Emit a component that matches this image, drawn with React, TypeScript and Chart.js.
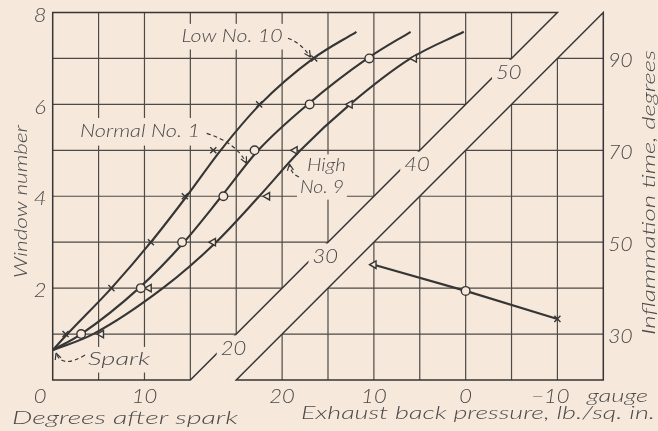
import { useEffect, useRef } from "react";
import { Chart, registerables } from "chart.js";

Chart.register(...registerables);

const PAPER = "#f6e8da";
const INK = "#363636";
const GRID = "#4d4a47";
const TEXT = "#4a4a4a";
const FONT = "Lato, 'Open Sans', 'DejaVu Sans', sans-serif";

// Flame arrival: window number vs crank degrees after spark
const windowNumbers = [1, 2, 3, 4, 5, 6, 7];
const lowDegrees = [1.4, 6.4, 10.7, 14.4, 17.5, 22.5, 28.5];
const normalDegrees = [3.1, 9.6, 14.1, 18.6, 22.0, 28.0, 34.5];
const highDegrees = [5.3, 10.5, 17.5, 23.4, 26.4, 32.4, 39.4];

// Faired curves starting from the spark point
const lowCurveDegrees = [0, 1.6, 6.4, 10.7, 14.6, 18.3, 22.6, 28.4, 33.1];
const lowCurveWindows = [0.65, 1, 2, 3, 4, 5, 6, 7, 7.58];
const normalCurveDegrees = [0, 3.1, 9.4, 14.3, 18.4, 22.4, 27.8, 34.3, 39.0];
const normalCurveWindows = [0.65, 1, 2, 3, 4, 5, 6, 7, 7.58];
const highCurveDegrees = [0, 4.4, 12.0, 17.8, 22.5, 27.0, 32.4, 39.0, 44.8];
const highCurveWindows = [0.65, 1, 2, 3, 4, 5, 6, 7, 7.58];

// Inflammation time vs exhaust back pressure (High No. 9, Normal No. 1, Low No. 10)
const backPressures = [10, 0, -10];
const inflammationTimes = [45.1, 39.4, 33.3];

// Tick labels
const windowTicks = [2, 4, 6, 8];
const degreeTicks = [0, 10];
const pressureTicks = [20, 10, 0, -10];
const inflammationTicks = [30, 50, 70, 90];
const turningMarks = [20, 30, 40, 50];

// Frame geometry (degrees / window units)
const DEG_MAX = 60;
const WIN_MAX = 8;
const BAND_LEFT = 15;
const BAND_RIGHT = 20;
const BAND_SLOPE = 5;

type Opt = { width?: number; sx?: number; align?: CanvasTextAlign; rotate?: number; mask?: number };

function drawText(ctx: CanvasRenderingContext2D, text: string, x: number, y: number, size: number, opt: Opt = {}) {
  ctx.save();
  ctx.font = `italic 300 ${size}px ${FONT}`;
  const w = ctx.measureText(text).width;
  const sx = opt.width ? opt.width / w : opt.sx ?? 1;
  ctx.translate(x, y);
  if (opt.rotate) ctx.rotate(opt.rotate);
  ctx.scale(sx, 1);
  const align = opt.align ?? "center";
  ctx.textAlign = align;
  ctx.textBaseline = "alphabetic";
  if (opt.mask !== undefined) {
    const pad = opt.mask;
    const x0 = align === "center" ? -w / 2 : align === "left" ? 0 : -w;
    ctx.fillStyle = PAPER;
    ctx.fillRect(x0 - pad / sx, -0.78 * size - pad, w + (2 * pad) / sx, 0.98 * size + 2 * pad);
  }
  ctx.fillStyle = TEXT;
  ctx.fillText(text, 0, 0);
  ctx.restore();
}

function leader(ctx: CanvasRenderingContext2D, a: number[], c: number[], b: number[]) {
  ctx.save();
  ctx.strokeStyle = INK;
  ctx.lineWidth = 1.2;
  ctx.setLineDash([4, 3]);
  ctx.beginPath();
  ctx.moveTo(a[0], a[1]);
  ctx.quadraticCurveTo(c[0], c[1], b[0], b[1]);
  ctx.stroke();
  ctx.setLineDash([]);
  const ang = Math.atan2(b[1] - c[1], b[0] - c[0]);
  ctx.beginPath();
  for (const s of [-0.45, 0.45]) {
    ctx.moveTo(b[0], b[1]);
    ctx.lineTo(b[0] - 7 * Math.cos(ang + s), b[1] - 7 * Math.sin(ang + s));
  }
  ctx.stroke();
  ctx.restore();
}

const framePlugin = {
  id: "frame",
  beforeDraw(chart: any) {
    const { ctx, width, height } = chart;
    ctx.save();
    ctx.fillStyle = PAPER;
    ctx.fillRect(0, 0, width, height);
    ctx.restore();
  },
  beforeDatasetsDraw(chart: any) {
    const ctx: CanvasRenderingContext2D = chart.ctx;
    const xs = chart.scales.x;
    const ys = chart.scales.y;
    const x2 = chart.scales.x2;
    const y2 = chart.scales.y2;
    const px = (d: number) => xs.getPixelForValue(d);
    const py = (w: number) => ys.getPixelForValue(w);

    const leftPanel = [[0, 0], [BAND_LEFT, 0], [BAND_LEFT + BAND_SLOPE * WIN_MAX, WIN_MAX], [0, WIN_MAX]];
    const rightPanel = [[BAND_RIGHT, 0], [DEG_MAX, 0], [DEG_MAX, WIN_MAX]];
    const path = (pts: number[][]) => {
      ctx.beginPath();
      pts.forEach(([d, w], i) => (i ? ctx.lineTo(px(d), py(w)) : ctx.moveTo(px(d), py(w))));
      ctx.closePath();
    };

    // grid, clipped to each panel
    for (const panel of [leftPanel, rightPanel]) {
      ctx.save();
      path(panel);
      ctx.clip();
      ctx.beginPath();
      for (let d = 5; d < DEG_MAX; d += 5) {
        ctx.moveTo(px(d), py(0));
        ctx.lineTo(px(d), py(WIN_MAX));
      }
      for (let w = 1; w < WIN_MAX; w++) {
        ctx.moveTo(px(0), py(w));
        ctx.lineTo(px(DEG_MAX), py(w));
      }
      ctx.strokeStyle = GRID;
      ctx.lineWidth = 1.2;
      ctx.stroke();
      ctx.restore();
    }

    // panel outlines
    ctx.save();
    ctx.strokeStyle = INK;
    ctx.lineWidth = 1.5;
    path(leftPanel);
    ctx.stroke();
    path(rightPanel);
    ctx.stroke();
    ctx.restore();

    // marks along the turning line
    for (const m of turningMarks) {
      const w = (m - BAND_LEFT) / BAND_SLOPE - 0.3;
      drawText(ctx, String(m), px(m - 0.3), py(w) + 7.2, 20, { sx: 1.1, mask: 4 });
    }

    // left axis ticks
    const left = px(0);
    for (const t of windowTicks) drawText(ctx, String(t), left - 12.5, py(t) + 9.2, 20, { sx: 1.1 });
    for (const t of degreeTicks) {
      const x = t === 0 ? left - 12.5 : px(t);
      drawText(ctx, String(t), x, 402.5, 20, { sx: 1.1 });
    }
    // right axis ticks
    for (const t of pressureTicks) {
      const label = t < 0 ? "\u2212" + Math.abs(t) : String(t);
      drawText(ctx, label, x2.getPixelForValue(t) - (t < 0 ? 7 : 0), 402.5, 20, { sx: 1.1 });
    }
    const right = px(DEG_MAX);
    for (const t of inflammationTicks) drawText(ctx, String(t), right + 5, y2.getPixelForValue(t) + 8.8, 19, { sx: 1.1, align: "left" });
    drawText(ctx, "gauge", 617.5, 402, 17, { width: 61 });

    // axis titles
    drawText(ctx, "Degrees after spark", 125, 424, 17, { width: 226 });
    drawText(ctx, "Exhaust back pressure, lb./sq. in.", 478, 419, 17, { width: 354 });
    drawText(ctx, "Window number", 26.5, 201.5, 17, { width: 153, rotate: -Math.PI / 2 });
    drawText(ctx, "Inflammation time, degrees", 654.5, 192.5, 17, { width: 285, rotate: -Math.PI / 2 });

    // curve labels
    drawText(ctx, "Low No. 10", px(19.55), py(7.36), 18, { width: 101, mask: 4 });
    drawText(ctx, "Normal No. 1", px(9.51), py(5.29), 18, { width: 120, mask: 5 });
    drawText(ctx, "High", px(29.83), py(4.54), 18, { sx: 1.15, mask: 3 });
    drawText(ctx, "No. 9", px(29.34), py(4.07), 18, { sx: 1.08, mask: 3 });
    drawText(ctx, "Spark", px(7.23), py(0.327), 18, { width: 62, mask: 4 });

    const P = (d: number, w: number) => [px(d), py(w)];
    leader(ctx, P(25.64, 7.44), P(27.06, 7.34), P(28.09, 7.03));
    leader(ctx, P(16.78, 5.37), P(19.97, 5.17), P(21.12, 4.72));
    leader(ctx, P(26.84, 4.42), P(25.97, 4.48), P(25.8, 4.7));
    leader(ctx, P(3.52, 0.544), P(0.99, 0.24), P(0.36, 0.588));
  },
};

const pts = (xs: number[], ys: number[]) => xs.map((x, i) => ({ x, y: ys[i] }));

const curve = (data: { x: number; y: number }[]) => ({
  data,
  showLine: true,
  borderColor: INK,
  borderWidth: 2.1,
  pointRadius: 0,
  fill: false,
  cubicInterpolationMode: "monotone" as const,
});

const markers = (data: { x: number; y: number }[], style: string, rotation = 0) => ({
  data,
  showLine: false,
  pointStyle: style,
  pointRotation: rotation,
  pointRadius: 4.3,
  pointBorderWidth: 1.4,
  pointBorderColor: INK,
  pointBackgroundColor: PAPER,
});

export default function App() {
  const ref = useRef<HTMLCanvasElement>(null);

  useEffect(() => {
    document.body.style.margin = "0";
    document.body.style.background = PAPER;
    const winPoints = (deg: number[]) => pts(deg, windowNumbers);
    const chart = new Chart(ref.current as HTMLCanvasElement, {
      type: "scatter",
      data: {
        datasets: [
          markers(winPoints(lowDegrees), "crossRot"),
          markers(winPoints(normalDegrees), "circle"),
          markers(winPoints(highDegrees), "triangle", -90),
          {
            data: pts(backPressures, inflammationTimes),
            xAxisID: "x2",
            yAxisID: "y2",
            showLine: true,
            borderColor: INK,
            borderWidth: 2.1,
            pointStyle: ["triangle", "circle", "crossRot"],
            pointRotation: [-90, 0, 0],
            pointRadius: 4.3,
            pointBorderWidth: 1.4,
            pointBorderColor: INK,
            pointBackgroundColor: PAPER,
          },
          curve(pts(lowCurveDegrees, lowCurveWindows)),
          curve(pts(normalCurveDegrees, normalCurveWindows)),
          curve(pts(highCurveDegrees, highCurveWindows)),
        ] as any,
      },
      options: {
        responsive: false,
        devicePixelRatio: 1,
        animation: false,
        events: [],
        layout: { padding: { left: 52.7, right: 54.7, top: 12.5, bottom: 51 } },
        plugins: { legend: { display: false }, tooltip: { enabled: false } },
        scales: {
          x: { type: "linear", min: 0, max: DEG_MAX, display: false },
          y: { type: "linear", min: 0, max: WIN_MAX, display: false },
          x2: { type: "linear", axis: "x", position: "top", min: -15, max: 45, reverse: true, display: false },
          y2: { type: "linear", axis: "y", position: "right", min: 20, max: 100, display: false },
        },
      } as any,
      plugins: [framePlugin],
    });
    return () => chart.destroy();
  }, []);

  return <canvas ref={ref} width={658} height={431} style={{ display: "block" }} />;
}
